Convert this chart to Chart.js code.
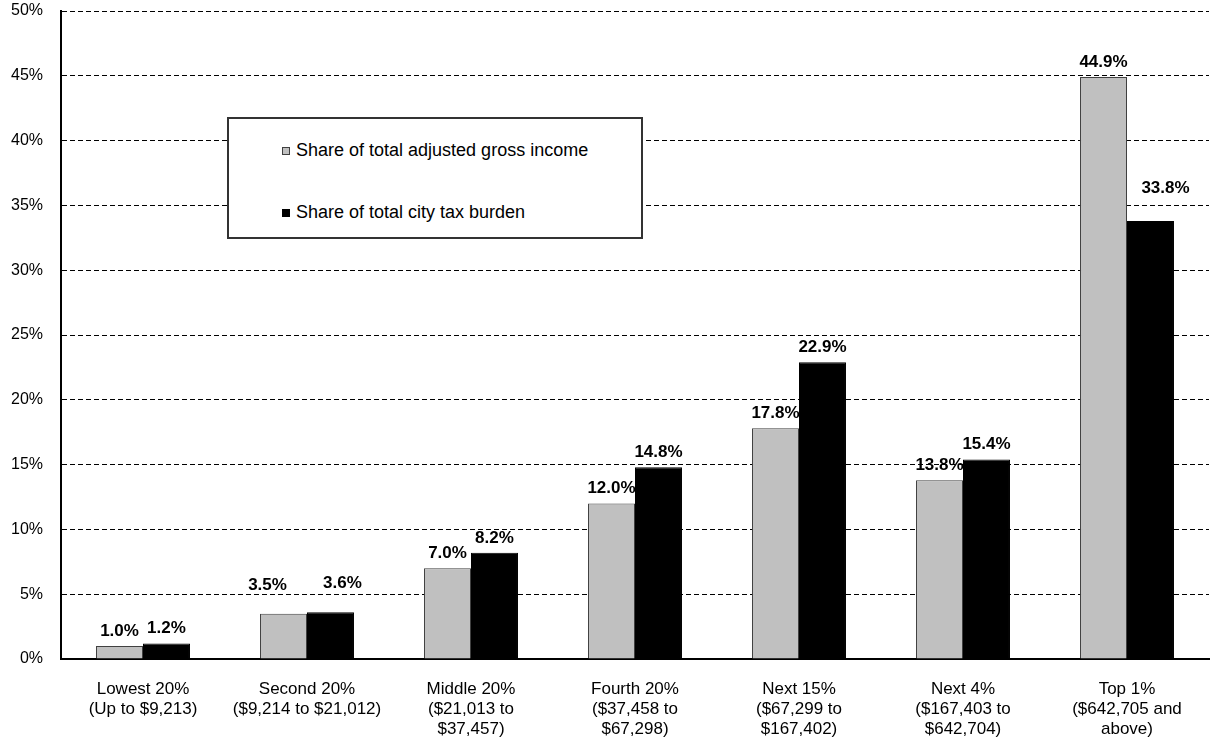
<!DOCTYPE html>
<html>
<head>
<meta charset="utf-8">
<script src="https://cdn.jsdelivr.net/npm/chart.js@4.4.1/dist/chart.umd.min.js"></script>
<style>
  body { margin: 0; background: #fff; }
  #wrap { position: relative; width: 1215px; height: 742px; }
  #legend_box {
    position: absolute; left: 227px; top: 117px; width: 416px; height: 122px;
    box-sizing: border-box; border: 2px solid #333; background: #fff;
    font-family: "Liberation Sans", Arial, sans-serif; font-size: 18px; color: #000;
  }
  .legend_item { position: absolute; left: 53px; height: 20px; line-height: 20px; white-space: nowrap; }
  .legend_item span.marker {
    display: inline-block; width: 8px; height: 8px; box-sizing: border-box;
    margin-right: 6px; vertical-align: 1px;
  }
</style>
</head>
<body>
<div id="wrap">
  <canvas id="incomeChart" width="1215" height="742"></canvas>
  <div id="legend_box">
    <div class="legend_item" style="top: 21px;"><span class="marker" style="background:#c0c0c0;border:1px solid #404040;"></span>Share of total adjusted gross income</div>
    <div class="legend_item" style="top: 83px;"><span class="marker" style="background:#000;"></span>Share of total city tax burden</div>
  </div>
</div>
<script>
// income groups (multi-line tick labels)
const categories = [
  ["Lowest 20%", "(Up to $9,213)"],
  ["Second 20%", "($9,214 to $21,012)"],
  ["Middle 20%", "($21,013 to", "$37,457)"],
  ["Fourth 20%", "($37,458 to", "$67,298)"],
  ["Next 15%", "($67,299 to", "$167,402)"],
  ["Next 4%", "($167,403 to", "$642,704)"],
  ["Top 1%", "($642,705 and", "above)"],
];
const income_share = [1.0, 3.5, 7.0, 12.0, 17.8, 13.8, 44.9];
const tax_share = [1.2, 3.6, 8.2, 14.8, 22.9, 15.4, 33.8];
const y_max = 50;
const y_step = 5;

// a few labels were nudged by hand in the original: [dataset][index] -> [dx, dy]
const label_nudge = {
  "0-1": [-16, -14],
  "1-1": [12, -14],
  "1-6": [15, -18],
};

const font_family = '"Liberation Sans", Arial, sans-serif';

// bold value labels above each bar
const valueLabels = {
  id: "valueLabels",
  afterDatasetsDraw(chart) {
    const ctx = chart.ctx;
    ctx.save();
    ctx.font = "bold 17px " + font_family;
    ctx.fillStyle = "#000";
    ctx.textAlign = "center";
    ctx.textBaseline = "alphabetic";
    chart.data.datasets.forEach((ds, i) => {
      chart.getDatasetMeta(i).data.forEach((bar, j) => {
        const nudge = label_nudge[i + "-" + j] || [0, 0];
        ctx.fillText(ds.data[j].toFixed(1) + "%", bar.x + nudge[0], bar.y - 10 + nudge[1]);
      });
    });
    ctx.restore();
  },
};

const ctx = document.getElementById("incomeChart").getContext("2d");
new Chart(ctx, {
  type: "bar",
  data: {
    labels: categories,
    datasets: [
      {
        label: "Share of total adjusted gross income",
        data: income_share,
        backgroundColor: "#c0c0c0",
        borderColor: "#404040",
        borderWidth: 1,
        categoryPercentage: 0.573,
        barPercentage: 1.0,
      },
      {
        label: "Share of total city tax burden",
        data: tax_share,
        backgroundColor: "#000000",
        borderColor: "#000000",
        borderWidth: 1,
        categoryPercentage: 0.573,
        barPercentage: 1.0,
      },
    ],
  },
  options: {
    responsive: false,
    animation: false,
    layout: { padding: { top: 11, right: 6, left: 0, bottom: 0 } },
    plugins: {
      legend: { display: false },
      tooltip: { enabled: false },
    },
    scales: {
      x: {
        grid: { display: false, drawTicks: false },
        border: { display: true, color: "#000", width: 2 },
        ticks: {
          color: "#000",
          font: { family: font_family, size: 17, lineHeight: 1.18 },
          padding: 20,
          maxRotation: 0,
          autoSkip: false,
        },
        afterFit: (scale) => { scale.height = 83; },
      },
      y: {
        min: 0,
        max: y_max,
        grid: { color: "#000", lineWidth: 1, drawTicks: false },
        border: { display: true, color: "#000", width: 2, dash: [5, 3] },
        ticks: {
          stepSize: y_step,
          color: "#000",
          padding: 18,
          font: { family: font_family, size: 16 },
          callback: (v) => v + "%",
        },
        afterFit: (scale) => {
          scale.width = 61;
          scale.paddingTop = 0; // tick padding was pushing the plot down
          scale.paddingBottom = 0;
        },
      },
    },
  },
  plugins: [valueLabels],
});
</script>
</body>
</html>
